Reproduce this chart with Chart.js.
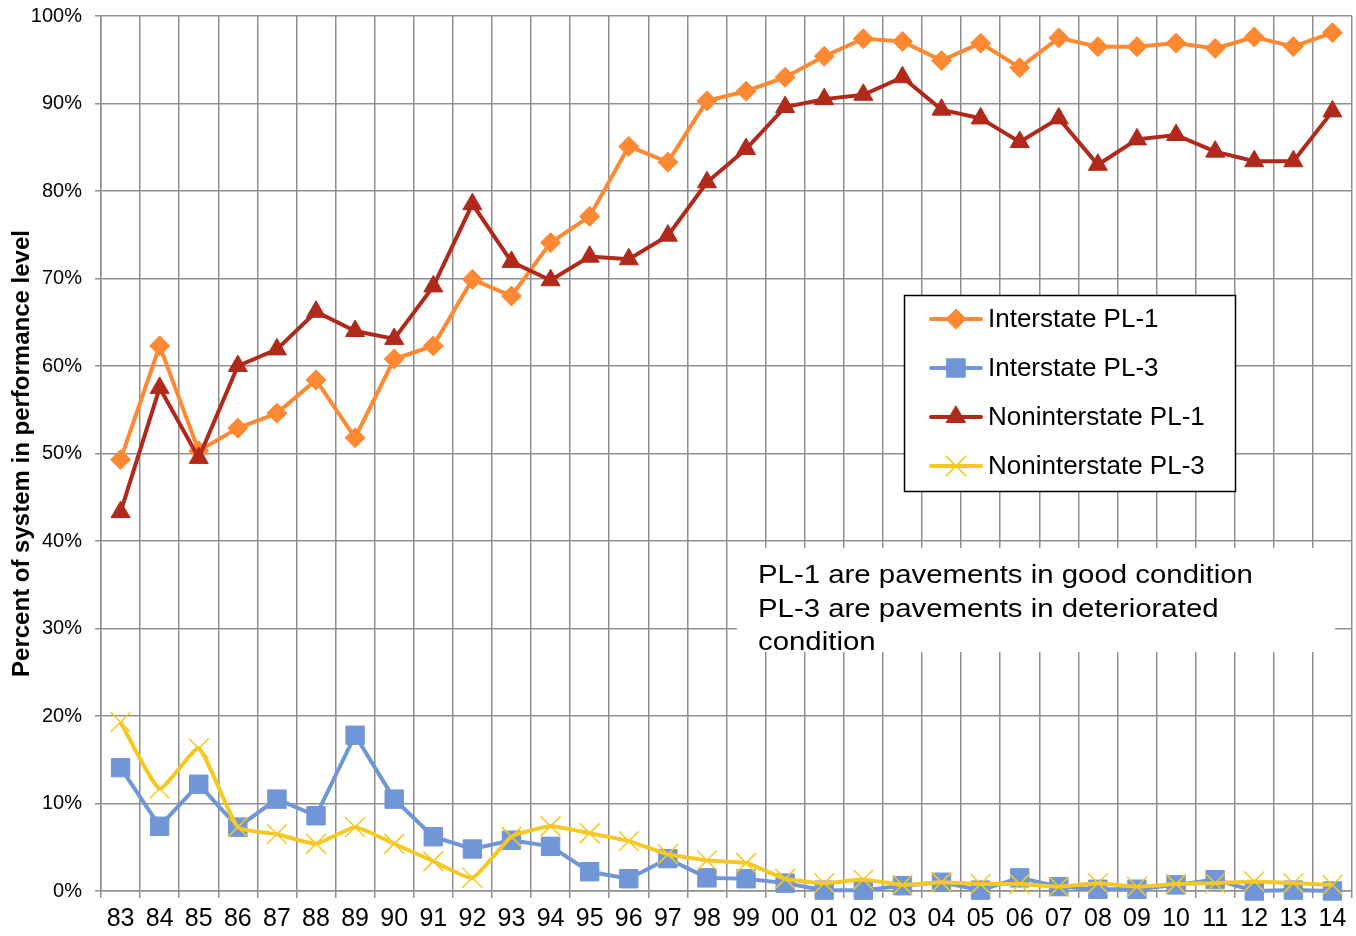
<!DOCTYPE html>
<html>
<head>
<meta charset="utf-8">
<script src="https://cdn.jsdelivr.net/npm/chart.js@4/dist/chart.umd.min.js"></script>
<style>
  body { margin: 0; background: #fff; }
  #wrap { width: 1356px; height: 936px; }
</style>
</head>
<body>
<div id="wrap"><canvas id="chart" width="1356" height="936"></canvas></div>
<script>
// years shown on the x axis
const years = ['83','84','85','86','87','88','89','90','91','92','93','94','95','96','97','98','99',
               '00','01','02','03','04','05','06','07','08','09','10','11','12','13','14'];

// percent of system in each performance level
const interstatePL1 = [49.3, 62.3, 50.3, 52.9, 54.6, 58.4, 51.8, 60.8, 62.3, 69.9, 68.0, 74.1, 77.1, 85.1, 83.3, 90.3,
                       91.4, 93.0, 95.4, 97.4, 97.1, 94.9, 96.9, 94.1, 97.5, 96.5, 96.5, 96.9, 96.3, 97.6, 96.5, 98.1];
const interstatePL3 = [14.1, 7.4, 12.2, 7.3, 10.5, 8.6, 17.8, 10.5, 6.2, 4.8, 5.8, 5.1, 2.2, 1.4, 3.7, 1.5,
                       1.4, 0.9, 0.1, 0.1, 0.6, 1.0, 0.1, 1.5, 0.5, 0.2, 0.2, 0.7, 1.3, 0.0, 0.1, 0.0];
const noninterstatePL1 = [43.3, 57.5, 49.5, 60.0, 61.9, 66.2, 64.0, 63.1, 69.1, 78.5, 71.9, 69.8, 72.5, 72.2, 74.9, 81.0,
                          84.8, 89.6, 90.5, 91.0, 93.0, 89.3, 88.3, 85.6, 88.3, 83.0, 85.9, 86.4, 84.5, 83.4, 83.4, 89.1];
const noninterstatePL3 = [19.3, 11.7, 16.3, 7.3, 6.5, 5.4, 7.3, 5.4, 3.4, 1.5, 6.2, 7.4, 6.6, 5.7, 4.2, 3.5,
                          3.2, 1.4, 0.9, 1.3, 0.7, 1.0, 0.8, 0.8, 0.5, 0.9, 0.5, 0.8, 0.9, 1.1, 0.9, 0.7];

const yTicks = [0, 10, 20, 30, 40, 50, 60, 70, 80, 90, 100];

const noteLines = ['PL-1 are pavements in good condition', 'PL-3 are pavements in deteriorated', 'condition'];

const FONT = '"Liberation Sans", Arial, sans-serif';
const GRID = '#8f8f8f';

const ORANGE = '#FF8833';
const BLUE = '#7096D8';
const RED = '#B0291A';
const YELLOW = '#F5C823';

function series(label, data, color, style, radius, order, tension) {
    return {
        label: label,
        data: data,
        borderColor: color,
        backgroundColor: color,
        borderWidth: 4,
        pointStyle: style,
        pointRadius: radius,
        pointHoverRadius: radius,
        pointBackgroundColor: color,
        pointBorderColor: color,
        pointBorderWidth: style === 'crossRot' ? 1.5 : 1,
        tension: tension || 0,
        order: order,
        clip: false
    };
}

const datasets = [
    series('Interstate PL-1', interstatePL1, ORANGE, 'rectRot', 10, 3),
    series('Interstate PL-3', interstatePL3, BLUE, 'rect', 13, 2),
    series('Noninterstate PL-1', noninterstatePL1, RED, 'triangle', 11, 1),
    series('Noninterstate PL-3', noninterstatePL3, YELLOW, 'crossRot', 14, 0, 0.15)
];

// white note box with the explanation text
const notePlugin = {
    id: 'noteBox',
    beforeDatasetsDraw(chart) {
        const ctx = chart.ctx;
        ctx.save();
        ctx.fillStyle = '#fff';
        ctx.fillRect(737, 548, 598, 104);
        ctx.fillStyle = '#000';
        ctx.font = '26px ' + FONT;
        ctx.textBaseline = 'middle';
        // the original text is a bit wider than the font, stretch it
        ctx.translate(758, 0);
        ctx.scale(1.13, 1);
        noteLines.forEach(function(line, i) {
            ctx.fillText(line, 0, 576 + i * 33.5);
        });
        ctx.restore();
    }
};

// legend box drawn like the spreadsheet one: line sample with marker
const legendPlugin = {
    id: 'boxLegend',
    afterDraw(chart) {
        const ctx = chart.ctx;
        const x = 904, y = 295, w = 331, h = 196;
        ctx.save();
        ctx.fillStyle = '#fff';
        ctx.fillRect(x, y, w, h);
        ctx.strokeStyle = '#000';
        ctx.lineWidth = 1.5;
        ctx.strokeRect(x + 0.5, y + 0.5, w, h);
        chart.data.datasets.forEach(function(ds, i) {
            const cy = 319 + i * 49;
            ctx.strokeStyle = ds.borderColor;
            ctx.lineWidth = 4;
            ctx.lineCap = 'round';
            ctx.beginPath();
            ctx.moveTo(931, cy);
            ctx.lineTo(981, cy);
            ctx.stroke();
            ctx.fillStyle = ds.backgroundColor;
            ctx.lineWidth = ds.pointBorderWidth;
            Chart.helpers.drawPoint(ctx, {
                pointStyle: ds.pointStyle,
                radius: ds.pointRadius,
                rotation: 0,
                borderWidth: ds.pointBorderWidth
            }, 956, cy);
            ctx.fillStyle = '#000';
            ctx.font = '26px ' + FONT;
            ctx.textBaseline = 'middle';
            ctx.fillText(ds.label, 988, cy + 1);
        });
        ctx.restore();
    }
};

new Chart(document.getElementById('chart'), {
    type: 'line',
    data: { labels: years, datasets: datasets },
    options: {
        responsive: false,
        animation: false,
        events: [],
        layout: { autoPadding: false, padding: { top: 16, right: 4, left: 0, bottom: 0 } },
        plugins: {
            legend: { display: false },
            tooltip: { enabled: false }
        },
        scales: {
            x: {
                offset: true,
                grid: { offset: true, color: GRID, lineWidth: 1.5, tickLength: 7, drawTicks: true },
                border: { color: GRID, width: 1.5 },
                ticks: { color: '#000', font: { family: FONT, size: 25 }, padding: 6, maxRotation: 0, autoSkip: false },
                afterFit: function(scale) {
                    scale.height = 45;
                    scale.paddingLeft = 0;
                    scale.paddingRight = 0;
                }
            },
            y: {
                min: 0,
                max: 100,
                afterBuildTicks: function(scale) {
                    scale.ticks = yTicks.map(function(v) { return { value: v }; });
                },
                grid: { color: GRID, lineWidth: 1.5, tickLength: 6 },
                border: { color: GRID, width: 1.5 },
                ticks: {
                    color: '#000',
                    font: { family: FONT, size: 20 },
                    padding: 13,
                    callback: function(v) { return v + '%'; }
                },
                title: {
                    display: true,
                    text: 'Percent of system in performance level',
                    color: '#000',
                    font: { family: FONT, size: 24, weight: 'bold' },
                    padding: { top: 8, bottom: 0 }
                },
                afterFit: function(scale) {
                    scale.width = 101;
                    scale.paddingTop = 0;
                    scale.paddingBottom = 0;
                }
            }
        }
    },
    plugins: [notePlugin, legendPlugin]
});
</script>
</body>
</html>
